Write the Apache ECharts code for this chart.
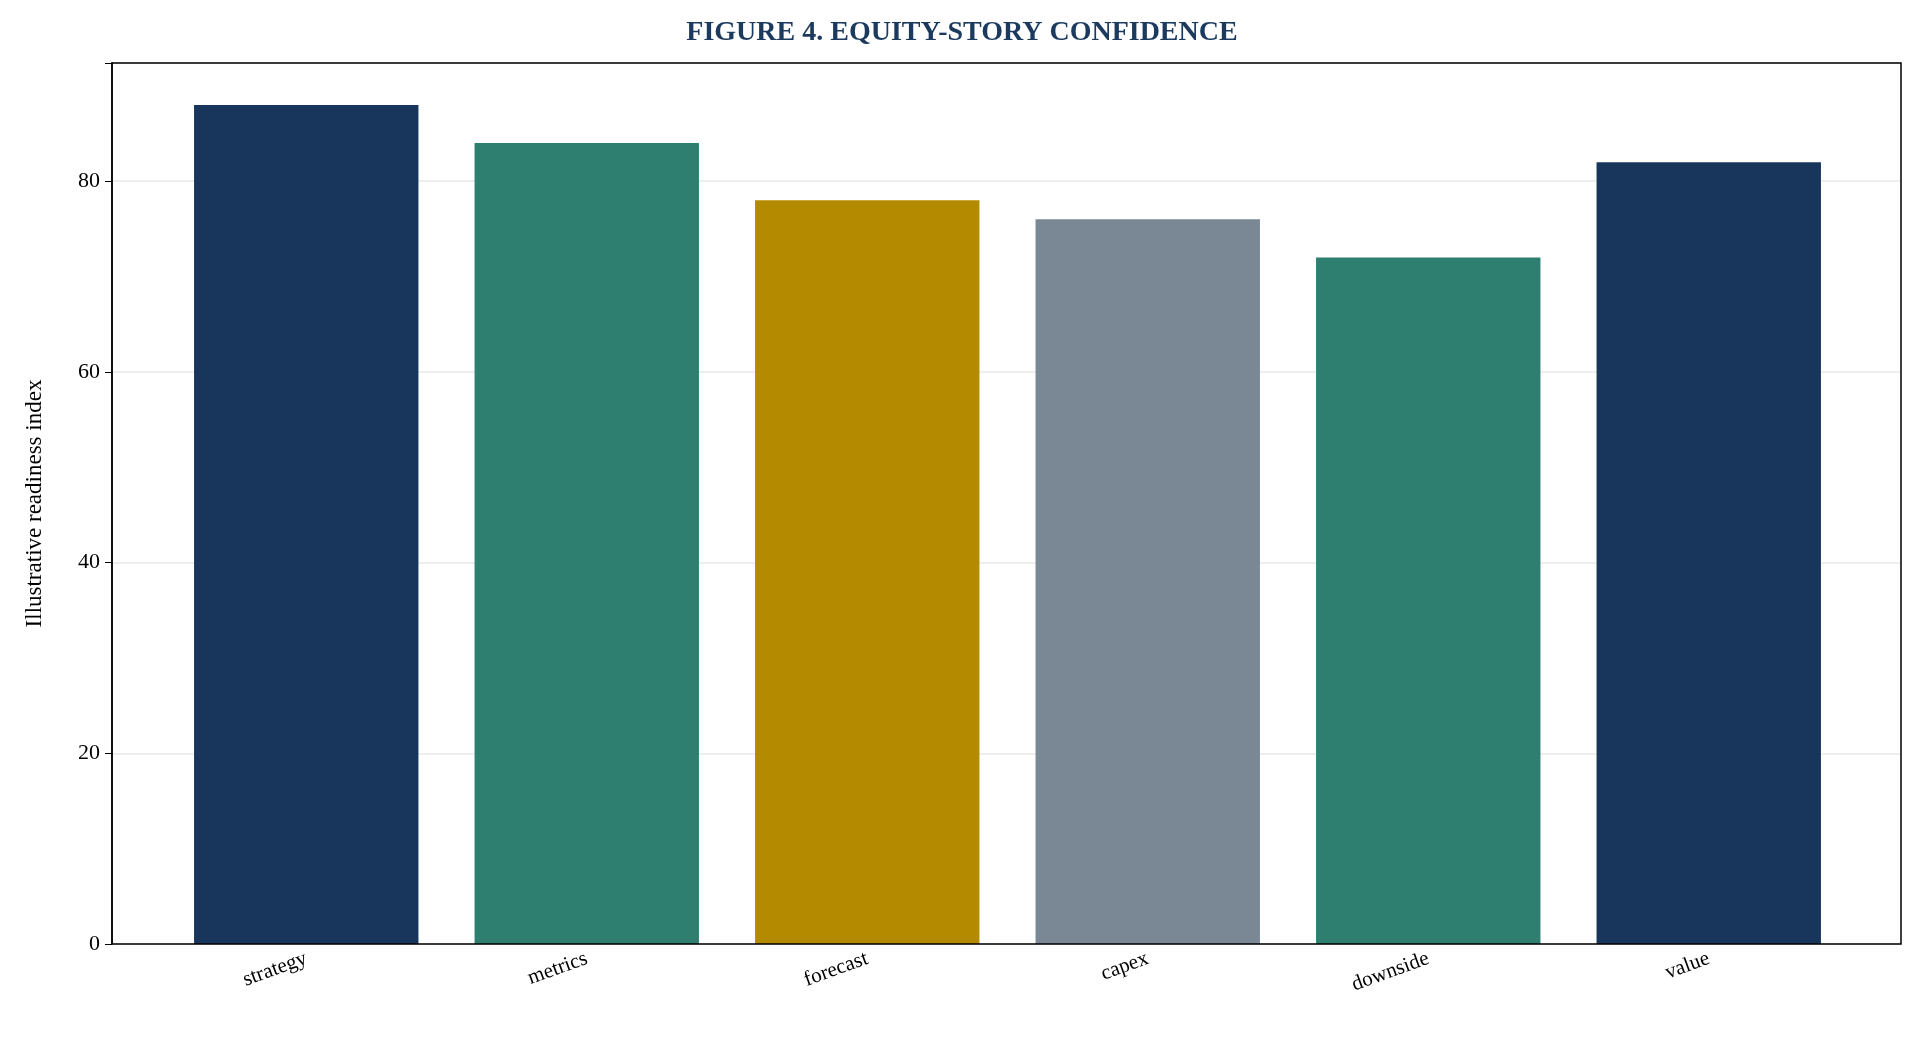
<!DOCTYPE html>
<html><head><meta charset="utf-8">
<script src="https://cdn.jsdelivr.net/npm/echarts@6/dist/echarts.min.js"></script>
<style>html,body{margin:0;padding:0;background:#fff}#c{width:1924px;height:1051px}</style>
</head><body><div id="c"></div>
<script>
const categories = ['strategy','metrics','forecast','capex','downside','value'];
const values = [88,84,78,76,72,82];
const colors = ['#18365c','#2e7f6f','#b38a00','#7a8795','#2e7f6f','#18365c'];
const yTicks = [0,20,40,60,80];
const F = 'Liberation Serif';
const chart = echarts.init(document.getElementById('c'));
chart.setOption({
  animation:false,
  title:{text:'FIGURE 4. EQUITY-STORY CONFIDENCE',left:'center',top:14,
    textStyle:{fontFamily:F,fontSize:28,fontWeight:'bold',color:'#1c3a5e'}},
  grid:[
    {left:112,right:23,top:63,bottom:107,show:true,borderColor:'#000',borderWidth:1.5,z:5},
    {left:166,right:75,top:63,bottom:107}
  ],
  xAxis:[
    {type:'category',gridIndex:0,data:[''],show:false},
    {type:'category',gridIndex:1,data:categories,
      axisLine:{show:false},
      axisTick:{alignWithLabel:true,length:7,lineStyle:{color:'#000',width:1.3}},
      axisLabel:{rotate:20,fontFamily:F,fontSize:21,color:'#000',margin:14}}
  ],
  yAxis:[
    {type:'value',gridIndex:0,min:0,max:92.4,interval:20,
      name:'Illustrative readiness index',nameLocation:'middle',nameGap:66,
      nameTextStyle:{fontFamily:F,fontSize:23,color:'#000'},
      axisLine:{show:true,lineStyle:{color:'#000',width:1.5}},
      axisTick:{show:true,length:7,lineStyle:{color:'#000'}},
      axisLabel:{fontFamily:F,fontSize:22,color:'#000',margin:12,
        formatter:v=>yTicks.includes(v)?String(v):''},
      splitLine:{lineStyle:{color:'#e8e8e8',width:1.5}}},
    {type:'value',gridIndex:1,min:0,max:92.4,show:false,splitLine:{show:false}}
  ],
  series:[{type:'bar',xAxisIndex:1,yAxisIndex:1,barCategoryGap:'20%',
    data:values.map((v,i)=>({value:v,itemStyle:{color:colors[i]}}))}]
});
</script></body></html>
